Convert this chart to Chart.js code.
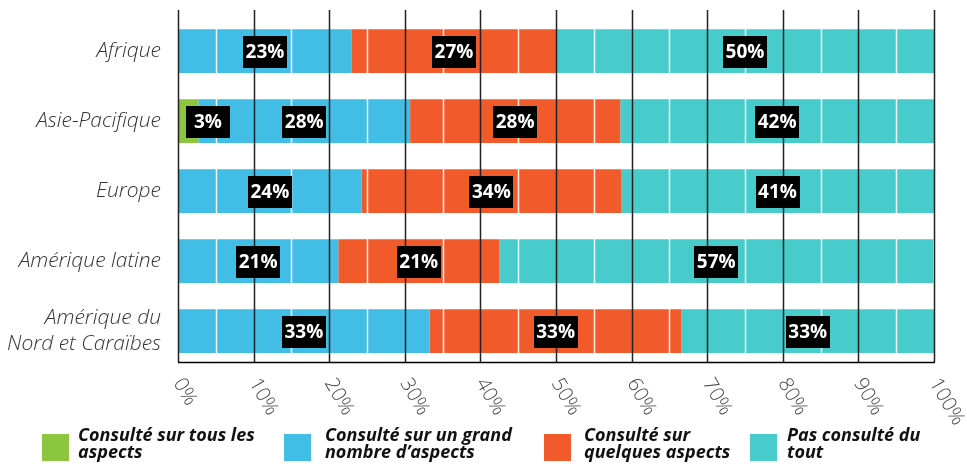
<!DOCTYPE html>
<html>
<head>
<meta charset="utf-8">
<script src="https://cdn.jsdelivr.net/npm/chart.js@4"></script>
<style>
  body { margin: 0; background: #fff; }
  #wrap { position: relative; width: 967px; height: 466px; }
  .leg { position: absolute; top: 426px; font: italic 700 18px/17px "Open Sans", sans-serif; color: #111; }
  .sw { position: absolute; top: 434px; width: 27px; height: 27px; }
</style>
</head>
<body>
<div id="wrap">
  <canvas id="myChart" width="967" height="466"></canvas>
  <div class="sw" style="left:42px;background:#8cc63f"></div>
  <div class="leg" style="left:78px">Consulté sur tous les<br>aspects</div>
  <div class="sw" style="left:284px;background:#42bde6"></div>
  <div class="leg" style="left:325px">Consulté sur un grand<br>nombre d’aspects</div>
  <div class="sw" style="left:544px;background:#f15a2b"></div>
  <div class="leg" style="left:584px">Consulté sur<br>quelques aspects</div>
  <div class="sw" style="left:750px;background:#47cbcb"></div>
  <div class="leg" style="left:787px">Pas consulté du<br>tout</div>
</div>
<script>
const regions = ['Afrique', 'Asie-Pacifique', 'Europe', 'Amérique latine', ['Amérique du', 'Nord et Caraïbes']]
// part (%) de chaque catégorie
const tous = [0, 2.7, 0, 0, 0]
const grandNombre = [23, 28, 24.3, 21.2, 33.3]
const quelques = [27, 27.8, 34.3, 21.3, 33.3]
const pasConsulte = [50, 41.5, 41.4, 57.4, 33.4]
const xTicks = [0, 10, 20, 30, 40, 50, 60, 70, 80, 90, 100]

const overlay = {
    id: 'overlay',
    afterDatasetsDraw(chart) {
        const ctx = chart.ctx
        const area = chart.chartArea
        const x = chart.scales.x
        const top = area.top - 6, bottom = area.bottom - 4
        ctx.save()
        // lignes blanches a 5, 15, 25 ...
        ctx.strokeStyle = 'rgba(255,255,255,0.9)'
        ctx.lineWidth = 1.5
        for (let v = 5; v < 100; v += 10) {
            const px = Math.round(x.getPixelForValue(v)) + 0.5
            ctx.beginPath(); ctx.moveTo(px, top); ctx.lineTo(px, bottom); ctx.stroke()
        }
        // lignes noires tous les 10%
        ctx.strokeStyle = '#222'
        ctx.lineWidth = 1.5
        xTicks.forEach(v => {
            const px = Math.round(x.getPixelForValue(v)) + 0.5
            ctx.beginPath(); ctx.moveTo(px, top); ctx.lineTo(px, bottom); ctx.stroke()
        })
        ctx.strokeStyle = '#000'
        ctx.beginPath(); ctx.moveTo(area.left, bottom + 0.5); ctx.lineTo(area.right + 1, bottom + 0.5); ctx.stroke()

        // etiquettes des valeurs
        ctx.font = 'bold 19px "Open Sans"'
        ctx.textAlign = 'center'
        ctx.textBaseline = 'middle'
        chart.data.datasets.forEach((ds, i) => {
            chart.getDatasetMeta(i).data.forEach((bar, j) => {
                const val = ds.data[j]
                if (!val) return
                const txt = Math.round(val) + '%'
                const w = 44
                let cx = (bar.x + bar.base) / 2
                if (cx - w / 2 < area.left + 8) cx = area.left + 8 + w / 2
                ctx.fillStyle = '#000'
                ctx.fillRect(Math.round(cx - w / 2), Math.round(bar.y - 15), w, 32)
                ctx.fillStyle = '#fff'
                ctx.fillText(txt, cx, bar.y + 2)
            })
        })

        // graduations inclinees de l'axe x
        ctx.font = '300 20px "Open Sans"'
        ctx.fillStyle = '#444'
        ctx.textAlign = 'left'
        xTicks.forEach(v => {
            ctx.save()
            ctx.translate(x.getPixelForValue(v), bottom + 18)
            ctx.rotate(60 * Math.PI / 180)
            ctx.fillText(v + '%', 0, 0)
            ctx.restore()
        })
        ctx.restore()
    }
}

const data = {
    labels: regions,
    datasets: [
        { label: 'Consulté sur tous les aspects', data: tous, backgroundColor: '#8cc63f' },
        { label: 'Consulté sur un grand nombre d’aspects', data: grandNombre, backgroundColor: '#42bde6' },
        { label: 'Consulté sur quelques aspects', data: quelques, backgroundColor: '#f15a2b' },
        { label: 'Pas consulté du tout', data: pasConsulte, backgroundColor: '#47cbcb' }
    ]
}

const config = {
    type: 'bar',
    data: data,
    options: {
        indexAxis: 'y',
        responsive: false,
        animation: false,
        datasets: { bar: { barPercentage: 0.625, categoryPercentage: 1, borderWidth: 0 } },
        layout: { padding: { top: 16, right: 33, left: 0, bottom: 0 } },
        plugins: { legend: { display: false }, tooltip: { enabled: false } },
        scales: {
            x: {
                stacked: true, min: 0, max: 100,
                ticks: { display: false, stepSize: 10 },
                grid: { display: false }, border: { display: false },
                afterFit(s) { s.height = 100; s.paddingLeft = 0; s.paddingRight = 0 }
            },
            y: {
                stacked: true,
                grid: { display: false }, border: { display: false },
                ticks: { padding: 9, color: '#333', font: { family: 'Open Sans', size: 21, style: 'italic', weight: 300, lineHeight: 1.2 } },
                afterFit(s) { s.width = 178; s.paddingTop = 0; s.paddingBottom = 0 }
            }
        }
    },
    plugins: [overlay]
}

var myChart = new Chart(document.getElementById('myChart'), config)
</script>
</body>
</html>
